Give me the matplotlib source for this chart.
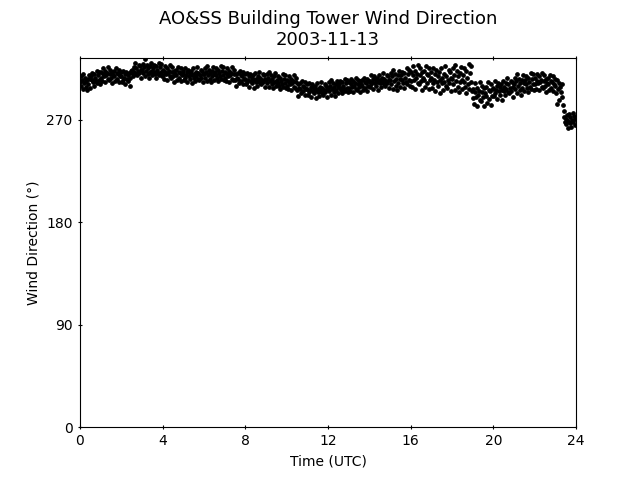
import numpy as np
import matplotlib
matplotlib.use('Agg')
import matplotlib.pyplot as plt

# wind direction (deg), one reading every 2 minutes, one row per hour (UTC)
h00 = [303,308,300,305,297,310,302,307,299,304,296,306,301,309,298, 306,308,305,311,303,310,300,307,304,313,302,309,305,312,301]
h01 = [307,312,304,310,315,308,313,303,309,311,306,316,305,310,314, 307,302,312,309,308,313,304,315,311,306,310,303,314,308,312]
h02 = [308,303,313,305,307,310,301,312,306,309,304,311,300,307,313, 311,314,308,316,312,320,310,315,309,313,318,311,317,307,314]
h03 = [314,319,311,316,308,323,313,318,310,315,307,317,312,320,309, 313,315,312,318,310,317,307,314,311,320,309,316,312,319,308]
h04 = [309,314,306,312,317,310,315,305,311,313,308,318,307,312,316, 308,303,313,310,309,314,305,316,312,307,311,304,315,309,313]
h05 = [310,305,315,307,309,312,303,314,308,311,306,313,302,309,315, 307,310,304,312,308,316,306,311,305,309,314,307,313,303,310]
h06 = [310,315,307,312,304,317,309,314,306,311,303,313,308,316,305, 310,312,309,315,307,314,304,311,308,317,306,313,309,316,305]
h07 = [307,312,304,310,315,308,313,303,309,311,306,316,305,310,314, 305,300,310,307,306,311,302,313,309,304,308,301,312,306,310]
h08 = [306,301,311,303,305,308,299,310,304,307,302,309,298,305,311, 303,306,300,308,304,312,302,307,301,305,310,303,309,299,306]
h09 = [305,310,302,307,299,312,304,309,301,306,298,308,303,311,300, 303,305,302,308,300,307,297,304,301,310,299,306,302,309,298]
h10 = [300,305,297,303,308,301,306,296,302,304,299,309,298,303,307, 296,291,301,298,297,302,293,304,300,295,299,292,303,297,301]
h11 = [297,292,302,294,296,299,290,301,295,298,293,300,289,296,302, 294,297,291,299,295,303,293,298,292,296,301,294,300,290,297]
h12 = [298,303,295,300,292,305,297,302,294,299,291,301,296,304,293, 299,301,298,304,296,303,293,300,297,306,295,302,298,305,294]
h13 = [298,303,295,301,306,299,304,294,300,302,297,307,296,301,305, 299,294,304,301,300,305,296,307,303,298,302,295,306,300,304]
h14 = [304,299,309,301,303,306,297,308,302,305,300,307,296,303,309, 302,305,299,307,303,311,301,306,300,304,309,302,308,298,305]
h15 = [305,311,301,308,297,314,304,310,300,306,296,309,302,313,299, 306,309,305,312,302,311,298,307,303,315,301,310,305,314,300]
h16 = [304,312,299,309,317,305,313,297,307,310,302,318,301,309,315, 304,296,312,307,305,313,299,317,310,302,309,297,315,305,312]
h17 = [307,298,315,302,305,310,295,314,303,308,300,312,293,305,315, 302,307,296,310,303,317,300,308,298,305,314,302,312,295,307]
h18 = [306,315,301,309,296,318,304,313,299,308,294,311,303,316,297, 305,309,303,315,299,313,293,307,301,319,297,311,303,317,295]
h19 = [289,297,284,294,302,290,298,282,292,295,287,303,286,294,300, 290,282,298,293,291,299,285,303,296,288,295,283,301,291,298]
h20 = [297,291,304,293,296,300,288,302,295,299,292,301,287,296,304, 295,299,292,302,297,307,294,301,293,298,304,295,303,290,299]
h21 = [301,307,297,304,293,310,300,306,296,302,292,305,298,309,295, 302,305,301,308,298,307,294,303,299,311,297,306,301,310,296]
h22 = [301,307,297,304,310,302,308,296,303,305,299,311,298,304,309, 300,294,306,302,301,307,296,309,304,298,303,295,308,301,306]
h23 = [300,293,305,284,297,302,287,299,294,301, 290,283,278,272,268, 271,266,274,263,269,275,267,272,264,270,276,268,273,265,271]

wdir = np.array(h00 + h01 + h02 + h03 + h04 + h05 + h06 + h07 + h08 + h09 + h10 + h11 +
                h12 + h13 + h14 + h15 + h16 + h17 + h18 + h19 + h20 + h21 + h22 + h23)
hours = np.arange(len(wdir)) * 2 / 60.0

fig, ax = plt.subplots(figsize=(6.4, 4.8), dpi=100)

ax.plot(hours, wdir, 'ko', ms=2.4)

ax.set_xlim(0, 24)
ax.set_ylim(0, 324.5)
ax.set_xticks([0, 4, 8, 12, 16, 20, 24])
ax.set_yticks([0, 90, 180, 270])
ax.tick_params(axis='x', direction='inout', top=True)
ax.tick_params(axis='y', direction='inout')

ax.set_xlabel('Time (UTC)')
ax.set_ylabel('Wind Direction (°)')
ax.set_title('AO&SS Building Tower Wind Direction\n2003-11-13', fontsize=13, pad=9)

fig.savefig('out.png', dpi=100)
